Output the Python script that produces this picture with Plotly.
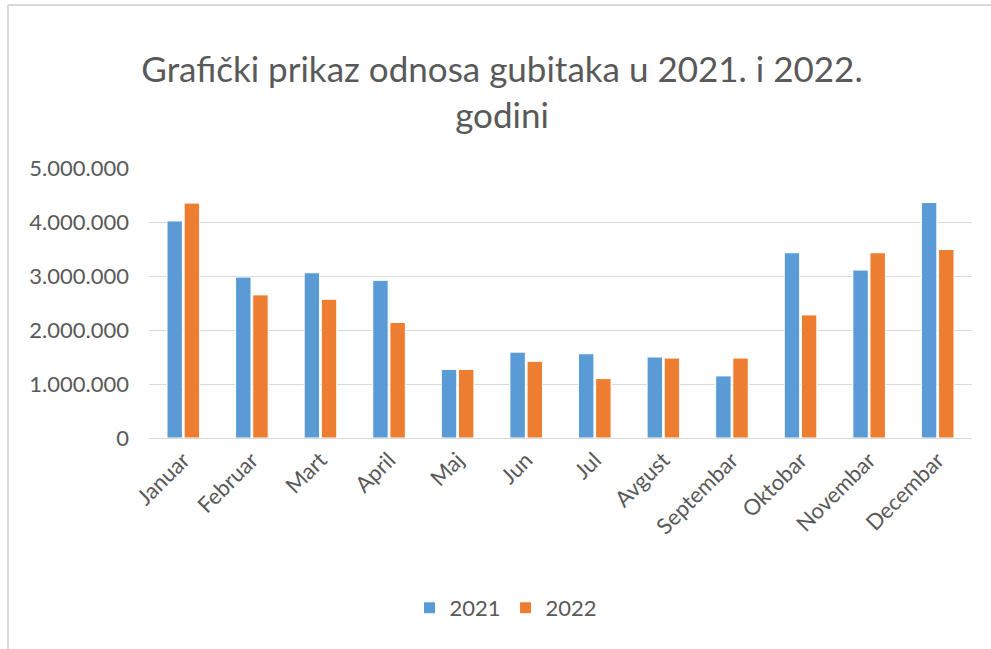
import plotly.graph_objects as go

months = ["Januar", "Februar", "Mart", "April", "Maj", "Jun", "Jul",
          "Avgust", "Septembar", "Oktobar", "Novembar", "Decembar"]
losses_2021 = [4020000, 2980000, 3060000, 2920000, 1270000, 1590000, 1560000,
               1500000, 1150000, 3430000, 3110000, 4360000]
losses_2022 = [4350000, 2650000, 2570000, 2140000, 1270000, 1420000, 1100000,
               1480000, 1480000, 2280000, 3430000, 3490000]
y_ticks = [0, 1000000, 2000000, 3000000, 4000000, 5000000]

FONT = "Lato, Open Sans, sans-serif"
GRAY = "#595959"

fig = go.Figure()
fig.add_trace(go.Bar(name="2021", x=months, y=losses_2021,
                     marker=dict(color="#5B9BD5", line=dict(color="white", width=1))))
fig.add_trace(go.Bar(name="2022", x=months, y=losses_2022,
                     marker=dict(color="#ED7D31", line=dict(color="white", width=1))))

L, R, T, B = 149, 19, 168, 211
W, H = 991, 649
pw = W - L - R
ph = H - T - B

def px_x(x):
    return (x - L) / pw

def px_y(y):
    return (H - B - y) / ph

fig.update_layout(
    width=W, height=H,
    margin=dict(l=L, r=R, t=T, b=B, autoexpand=False),
    paper_bgcolor="white", plot_bgcolor="white",
    separators=",.",
    barmode="group", bargap=0.5, bargroupgap=0.1,
    font=dict(family=FONT, color=GRAY),
    title=dict(text="Grafički prikaz odnosa gubitaka u 2021. i 2022.<br>godini",
               x=502 / W, xanchor="center", y=1 - 82 / H, yanchor="middle",
               font=dict(size=35, color=GRAY, family=FONT)),
    xaxis=dict(showgrid=False, showline=False, ticks="", tickangle=-45,
               ticklabelstandoff=4,
               tickfont=dict(size=22, color=GRAY)),
    yaxis=dict(range=[0, 5000000], tickvals=y_ticks, tickformat=",d",
               showgrid=True, gridcolor="#D9D9D9", gridwidth=1,
               zeroline=True, zerolinecolor="#D9D9D9", zerolinewidth=1,
               showline=False, ticks="", ticklen=0, ticklabelstandoff=19,
               tickfont=dict(size=22, color=GRAY)),
    legend=dict(orientation="h", x=px_x(506), xanchor="center", y=px_y(608), yanchor="middle",
                font=dict(size=22, color=GRAY), traceorder="normal",
                itemwidth=30),
    showlegend=True,
    shapes=[
        dict(type="line", xref="paper", yref="paper", x0=px_x(8), x1=px_x(991),
             y0=px_y(5), y1=px_y(5), line=dict(color="#D9D9D9", width=2)),
        dict(type="line", xref="paper", yref="paper", x0=px_x(8), x1=px_x(8),
             y0=px_y(5), y1=px_y(649), line=dict(color="#D9D9D9", width=2)),
    ],
)

fig.write_html("out.html", config={"displayModeBar": False},
               post_script="document.body.style.margin='0px';")
